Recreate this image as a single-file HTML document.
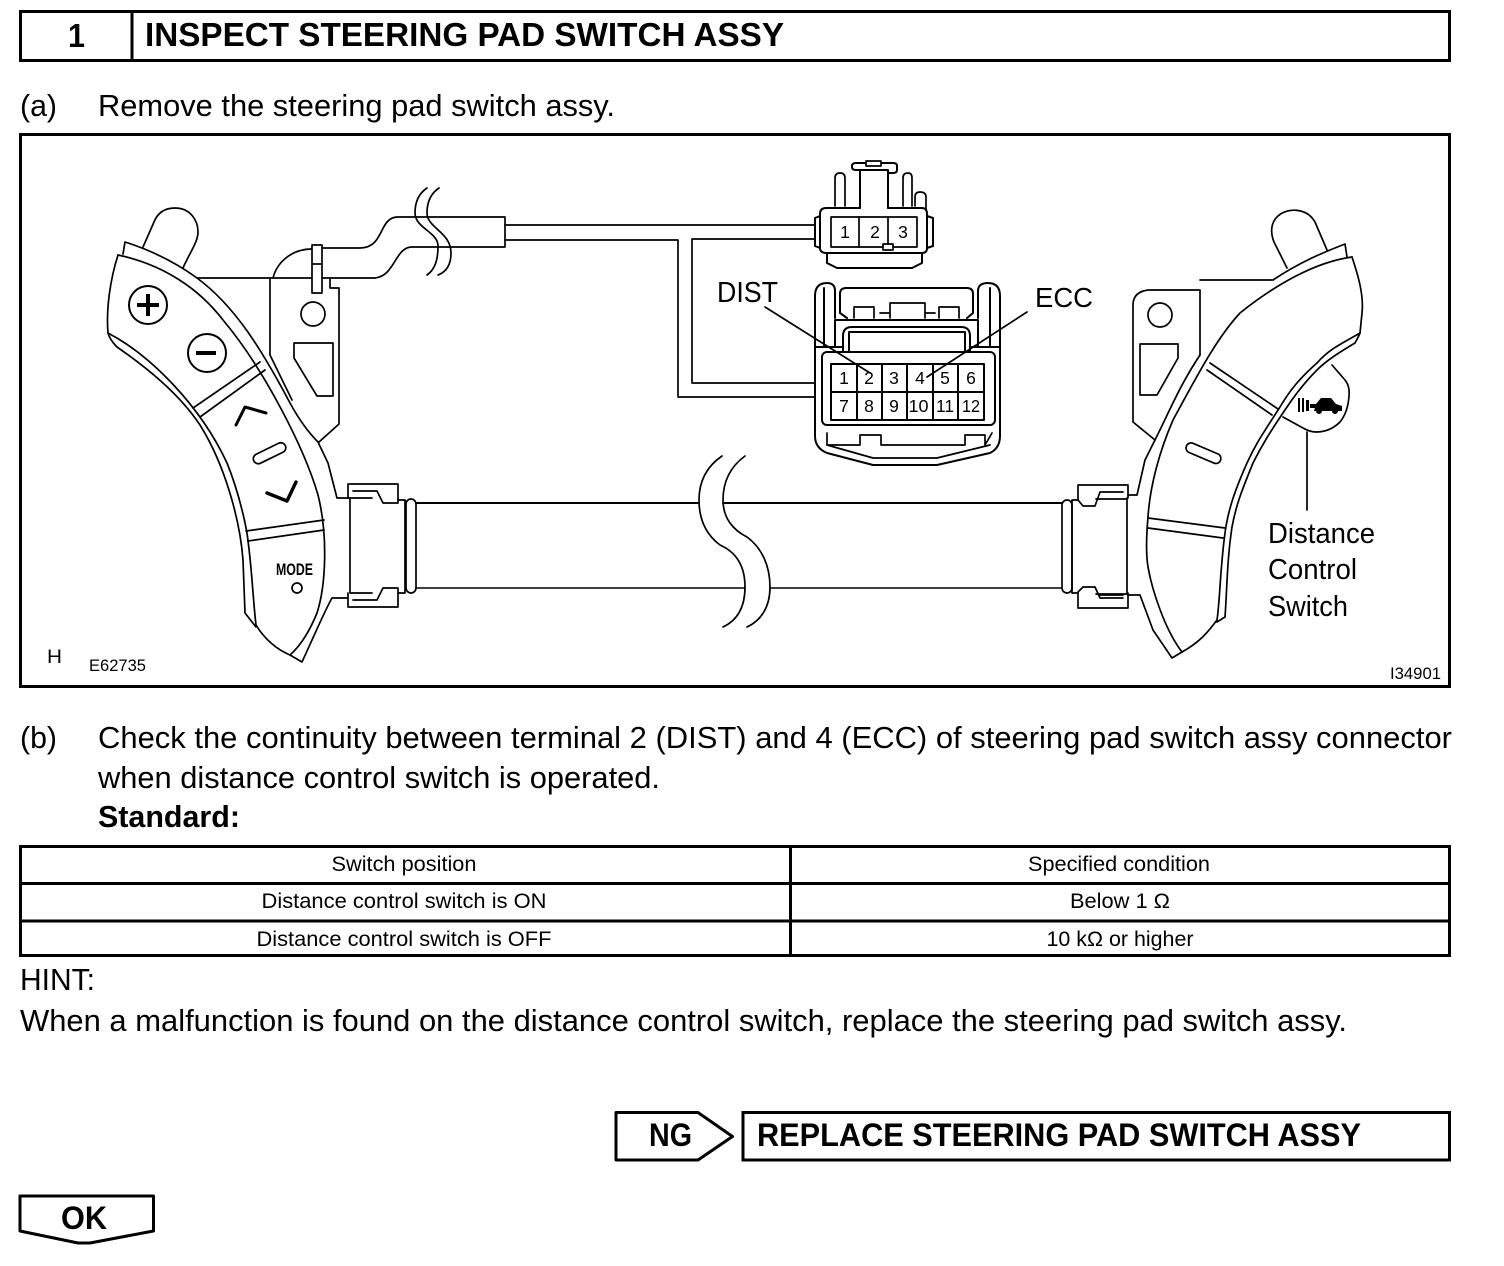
<!DOCTYPE html>
<html><head><meta charset="utf-8"><style>
html,body{margin:0;padding:0;background:#fff}
svg{display:block}
text{font-family:"Liberation Sans",sans-serif;fill:#000}
.b{font-weight:bold}
.d path,.d rect,.d circle,.d polygon,.d line,.d polyline{fill:none;stroke:#000;stroke-width:1.7;stroke-linejoin:round;stroke-linecap:round}
.d .w{fill:#fff}
.d .k{fill:#000;stroke:none}
.t{font-size:31px}
.n{font-size:21px;text-anchor:middle}
.p{font-size:17.5px;text-anchor:middle}
</style></head><body>
<svg width="1504" height="1266" viewBox="0 0 1504 1266" xmlns="http://www.w3.org/2000/svg">
<!-- header -->
<rect x="20.5" y="11.5" width="1429" height="49" fill="none" stroke="#000" stroke-width="3"/>
<line x1="132" y1="11" x2="132" y2="60" stroke="#000" stroke-width="3"/>
<text class="b" x="68" y="47" font-size="33" textLength="17" lengthAdjust="spacingAndGlyphs">1</text>
<text class="b" x="145" y="46" font-size="33" textLength="639" lengthAdjust="spacingAndGlyphs">INSPECT STEERING PAD SWITCH ASSY</text>
<text class="t" x="20" y="116" textLength="37" lengthAdjust="spacingAndGlyphs">(a)</text>
<text class="t" x="98" y="116" textLength="517" lengthAdjust="spacingAndGlyphs">Remove the steering pad switch assy.</text>
<rect x="20.5" y="134.5" width="1429" height="552" fill="none" stroke="#000" stroke-width="3"/>

<g class="d">
<!-- wire to small connector and branches -->
<path d="M505 225H815M505 240H678V397H815M815 383H692V239H815"/>
<!-- wire jacket -->
<path d="M197 278H375C395 276 395 247 412 247H505V217H398C378 217 385 248 360 248H312"/>
<path d="M273 278C277 262 292 249 312 249"/>
<path d="M427 188C418 194 415 203 415 213C415 228 438 232 438 246C438 262 434 270 427 275"/>
<path d="M439 188C430 194 427 203 427 213C427 228 451 232 451 253C451 265 446 272 438 275"/>

<!-- LEFT bracket -->
<path d="M270 278V355L292 400"/>
<path d="M330 278V288H339V424L319 442"/>
<circle cx="313" cy="314" r="12"/>
<polygon points="294,343 333,343 333,396 317,396 294,358"/>
<rect class="w" x="312" y="245" width="10" height="48"/>
<line x1="312" y1="264" x2="322" y2="264"/>
<!-- LEFT knob -->
<path d="M143 247L154 222C158 212 166 208 175 208C190 208 198 220 198 232C198 242 190 252 183 268"/>
<!-- LEFT pad -->
<path d="M123 254L125 242C150 250 175 262 197 278C235 306 262 350 290 403C302 425 312 436 318 442L328 463L337 498H350"/>
<path d="M118 255C165 265 200 290 223 320C265 370 305 450 318 495C328 535 326 585 317 613C308 635 298 648 290 655"/>
<path d="M118 255C110 280 106 310 108 333C150 355 200 405 227 463C240 495 247 530 248 541C252 570 253 600 256 625C265 640 278 650 290 655"/>
<path d="M108 333C110 340 115 345 117 347C150 370 180 395 200 425C225 465 240 520 243 560L245 613L256 627"/>
<path d="M290 655L302 662C310 645 325 610 332 598H348"/>
<line x1="193" y1="408" x2="260" y2="362"/>
<line x1="200" y1="417" x2="265" y2="370"/>
<line x1="246" y1="531" x2="324" y2="520"/>
<line x1="248" y1="541" x2="324" y2="530"/>
<circle cx="148" cy="305" r="19" style="stroke-width:2"/>
<path d="M137 305H159M148 294V316" style="stroke-width:4;stroke-linecap:butt"/>
<circle cx="207" cy="353" r="19" style="stroke-width:2"/>
<path d="M196 353H216" style="stroke-width:4;stroke-linecap:butt"/>
<path d="M236 425L245 407L266 413" style="stroke-width:3"/>
<rect x="252" y="448" width="35" height="10" rx="5" transform="rotate(-26 270 453)"/>
<path d="M267 493L287 501L296 482" style="stroke-width:3.4"/>
<circle cx="297" cy="588" r="5"/>
<!-- LEFT connector -->
<path d="M350 498V593M405 500V593M350 498H372M398 500H405M350 593H372M398 593H405"/>
<path d="M348 498V484H398V503H383L377 491H353"/>
<path d="M348 593V607H398V588H383L377 600H353"/>
<rect x="406" y="499" width="10" height="94" rx="5"/>

<!-- tube -->
<path d="M416 503H699M723 503H1062" style="stroke-width:2"/>
<path d="M416 588H745M770 588H1062" style="stroke-width:1.4"/>
<path d="M722 456C706 467 699 482 699 500C699 522 708 536 720 545C738 553 745 568 745 587C745 606 738 620 723 627"/>
<path d="M745 456C730 467 723 482 723 500C723 518 733 530 747 537C762 548 770 566 770 587C770 606 762 620 747 627"/>

<!-- small connector -->
<path d="M835 206V178Q835 173 840 173Q845 173 845 178V206"/>
<path d="M903 206V178Q903 173 908 173Q912 173 912 178V206"/>
<path d="M915 206V197Q915 192 920 192Q926 192 926 197V210"/>
<path d="M860 208V170H888V208M860 170H856Q852 170 852 167V166Q852 163 856 163H893Q897 163 897 166V170Q897 173 893 173H888" style="stroke-width:2"/>
<rect x="866" y="161" width="15" height="5" class="w"/>
<path d="M860 208H826Q820 208 820 214V248Q820 253 827 253H922Q927 253 927 248V214Q927 208 922 208H888" style="stroke-width:2"/>
<path d="M820 248L815 246V218L820 216M927 216L933 218V246L927 248" style="stroke-width:2"/>
<path d="M827 253V263L837 268H912L922 263V253" style="stroke-width:2"/>
<rect x="831" y="217" width="86" height="30"/>
<path d="M859 217V247M888 217V247"/>
<rect class="w" x="883" y="244" width="10" height="6"/>
<!-- big connector -->
<path d="M815 347V296Q815 283 827 283Q835 283 835 291V318M824 288V347" style="stroke-width:2"/>
<path d="M1000 347V296Q1000 283 988 283Q978 283 978 291V318M990 288V347" style="stroke-width:2"/>
<path d="M835 347V320H978V347M840 313V294Q840 288 846 288H967Q973 288 973 294V313L967 318M840 313L847 318" style="stroke-width:2"/>
<path d="M854 318V307H874V318M939 318V307H959V318M890 318V303H925V318M880 313H890M925 313H935"/>
<path d="M843 352V336Q843 327 852 327H961Q970 327 970 336V352" style="stroke-width:2"/>
<rect x="849" y="332" width="116" height="20" style="stroke-width:2"/>
<path d="M815 347H843M970 347H1000V436Q1000 448 990 453L937 465H873L827 453Q815 448 815 436V347" style="stroke-width:2"/>
<rect x="822" y="352" width="173" height="73" rx="5" style="stroke-width:2"/>
<rect x="831" y="364" width="153" height="56" style="stroke-width:2"/>
<path d="M857 364V420M882 364V420M907 364V420M933 364V420M958 364V420M831 392H984" style="stroke-width:2"/>
<path d="M827 433V445H860V435H881V445H965V435H985V445L992 433"/>
<path d="M827 445L873 458H937L990 445"/>
<!-- leaders -->
<line x1="765" y1="307" x2="870" y2="373"/>
<line x1="1027" y1="312" x2="927" y2="377"/>

<!-- RIGHT bracket -->
<path d="M1200 355V290H1148Q1133 292 1133 305V422L1155 440"/>
<circle cx="1160" cy="315" r="12"/>
<polygon points="1140,344 1178,344 1178,358 1157,395 1140,395"/>
<!-- RIGHT knob -->
<path d="M1287 268L1274 242C1270 232 1271 222 1278 216C1288 207 1307 208 1315 222L1327 250"/>
<!-- RIGHT switch -->
<path d="M1332 365L1345 380Q1350 386 1349 396Q1348 412 1340 422Q1330 432 1316 432Q1310 432 1303 428L1283 417"/>
<path class="k" d="M1298 398h2v14h-2zM1302 398h2v14h-2zM1306 400h3v11h-3zM1310 404h6v4h-6zM1316 404l5-6h10l5 6l6 2v5h-4a3 3 0 0 1 -6 0h-10a3 3 0 0 1 -6 0h-2z"/>
<line x1="1307" y1="432" x2="1307" y2="510"/>
<!-- RIGHT pad -->
<path d="M1200 280H1273C1300 262 1322 253 1345 244L1347 257"/>
<path d="M1352 257C1315 262 1275 285 1240 313C1215 340 1195 380 1173 420C1160 450 1150 485 1148 517C1146 540 1146 555 1148 567C1152 590 1165 630 1182 652"/>
<path d="M1352 257C1358 275 1364 295 1362 313L1360 333C1345 342 1330 348 1317 363C1300 378 1290 390 1280 407C1262 435 1255 445 1247 463C1235 490 1228 510 1225 533C1220 570 1220 600 1217 620C1208 632 1200 642 1182 652"/>
<path d="M1360 333C1358 338 1356 341 1355 343C1340 352 1327 360 1317 370C1305 382 1297 392 1287 407C1270 432 1262 445 1253 463C1242 490 1236 505 1232 527C1227 560 1227 590 1225 617L1217 622"/>
<path d="M1200 355C1180 385 1170 410 1155 440L1145 460L1137 495H1128"/>
<path d="M1128 595H1140L1153 630L1172 658L1182 652"/>
<line x1="1210" y1="363" x2="1278" y2="409"/>
<line x1="1207" y1="370" x2="1272" y2="415"/>
<line x1="1148" y1="518" x2="1225" y2="528"/>
<line x1="1148" y1="528" x2="1223" y2="538"/>
<rect x="1185" y="448" width="37" height="10" rx="5" transform="rotate(23 1203 453)"/>
<!-- RIGHT connector -->
<path d="M1072 500V593M1127 498V593M1072 500H1078M1096 499H1127M1072 593H1078M1096 594H1127"/>
<path d="M1078 500V485H1128V498M1078 500L1083 506H1095L1100 492H1123"/>
<path d="M1128 593V608H1078V592L1083 587H1095L1100 598H1123M1100 595H1123"/>
<rect x="1062" y="500" width="10" height="93" rx="5"/>
</g>

<!-- diagram labels -->
<g>
<text x="717" y="302" font-size="29" textLength="61" lengthAdjust="spacingAndGlyphs">DIST</text>
<text x="1035" y="307" font-size="28" textLength="58" lengthAdjust="spacingAndGlyphs">ECC</text>
<text class="p" x="845" y="238">1</text><text class="p" x="875" y="238">2</text><text class="p" x="903" y="238">3</text>
<text class="p" x="844" y="384">1</text><text class="p" x="869" y="384">2</text><text class="p" x="894" y="384">3</text><text class="p" x="920" y="384">4</text><text class="p" x="945" y="384">5</text><text class="p" x="971" y="384">6</text>
<text class="p" x="844" y="412">7</text><text class="p" x="869" y="412">8</text><text class="p" x="894" y="412">9</text>
<text x="908.500" y="412" font-size="17.5" textLength="20" lengthAdjust="spacingAndGlyphs">10</text>
<text x="936" y="412" font-size="17.5" textLength="18" lengthAdjust="spacingAndGlyphs">11</text>
<text x="962" y="412" font-size="17.5" textLength="18" lengthAdjust="spacingAndGlyphs">12</text>
<text class="b" x="276" y="575" font-size="17" textLength="37" lengthAdjust="spacingAndGlyphs">MODE</text>
<text x="1268" y="543" font-size="29" textLength="107" lengthAdjust="spacingAndGlyphs">Distance</text>
<text x="1268" y="579" font-size="29" textLength="89" lengthAdjust="spacingAndGlyphs">Control</text>
<text x="1268" y="616" font-size="29" textLength="80" lengthAdjust="spacingAndGlyphs">Switch</text>
<text x="47" y="663" font-size="19" textLength="15" lengthAdjust="spacingAndGlyphs">H</text>
<text x="89" y="671" font-size="17" textLength="57" lengthAdjust="spacingAndGlyphs">E62735</text>
<text x="1390" y="679" font-size="17" textLength="51" lengthAdjust="spacingAndGlyphs">I34901</text>
</g>

<!-- body text -->
<text class="t" x="20" y="748" textLength="37" lengthAdjust="spacingAndGlyphs">(b)</text>
<text class="t" x="98" y="748" textLength="1354" lengthAdjust="spacingAndGlyphs">Check the continuity between terminal 2 (DIST) and 4 (ECC) of steering pad switch assy connector</text>
<text class="t" x="98" y="788" textLength="562" lengthAdjust="spacingAndGlyphs">when distance control switch is operated.</text>
<text class="t b" x="98" y="827" textLength="142" lengthAdjust="spacingAndGlyphs">Standard:</text>

<!-- table -->
<rect x="20.5" y="846.5" width="1429" height="109" fill="none" stroke="#000" stroke-width="3"/>
<path d="M20 883.5H1450M20 921H1450M790.5 846V956" stroke="#000" stroke-width="3" fill="none"/>
<text class="n" x="404" y="871" textLength="145" lengthAdjust="spacingAndGlyphs">Switch position</text>
<text class="n" x="1119" y="871" textLength="182" lengthAdjust="spacingAndGlyphs">Specified condition</text>
<text class="n" x="404" y="908" textLength="285" lengthAdjust="spacingAndGlyphs">Distance control switch is ON</text>
<text class="n" x="1120" y="908" textLength="100" lengthAdjust="spacingAndGlyphs">Below 1 Ω</text>
<text class="n" x="404" y="946" textLength="295" lengthAdjust="spacingAndGlyphs">Distance control switch is OFF</text>
<text class="n" x="1120" y="946" textLength="147" lengthAdjust="spacingAndGlyphs">10 kΩ or higher</text>

<text class="t" x="20" y="990" textLength="75" lengthAdjust="spacingAndGlyphs">HINT:</text>
<text class="t" x="20" y="1031" textLength="1327" lengthAdjust="spacingAndGlyphs">When a malfunction is found on the distance control switch, replace the steering pad switch assy.</text>

<!-- NG -->
<path d="M616 1112.500H698L732.500 1136.500L698 1160H616Z" fill="none" stroke="#000" stroke-width="3" stroke-linejoin="round"/>
<text class="b" x="649" y="1146" font-size="32" textLength="43" lengthAdjust="spacingAndGlyphs">NG</text>
<rect x="743" y="1112.500" width="706.500" height="47.500" fill="none" stroke="#000" stroke-width="3"/>
<text class="b" x="757" y="1146" font-size="32" textLength="604" lengthAdjust="spacingAndGlyphs">REPLACE STEERING PAD SWITCH ASSY</text>
<!-- OK -->
<path d="M20 1196H153.500V1231L90 1243H78L20 1231Z" fill="none" stroke="#000" stroke-width="3" stroke-linejoin="round"/>
<text class="b" x="61" y="1229" font-size="32" textLength="46" lengthAdjust="spacingAndGlyphs">OK</text>
</svg>
</body></html>
